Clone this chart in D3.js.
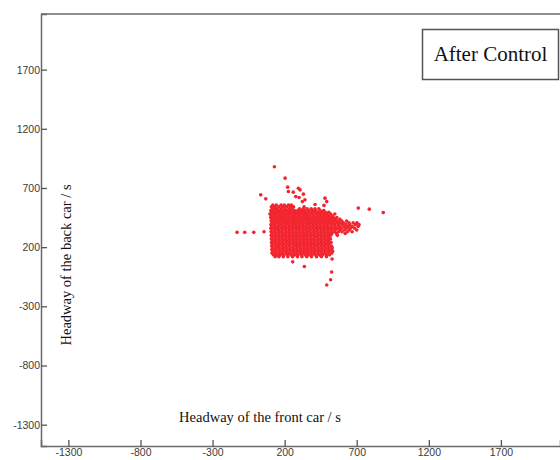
<!DOCTYPE html>
<meta charset="utf-8">
<head>
    <style>
        body, html {
            margin: 0;
            background: white;
        }
        .tick text {
            font-family: "Liberation Sans", Arial, sans-serif;
            font-size: 10.5px;
            fill: #3a3a3a;
        }
        .axis-title {
            font-family: "Liberation Serif", "Times New Roman", serif;
            font-size: 14.5px;
            fill: #111;
        }
    </style>
    <script src="https://cdn.jsdelivr.net/npm/d3@7/dist/d3.min.js"></script>
</head>
<body>
<svg id="chart" width="560" height="460"></svg>

<script>
    // tick values on both axes
    var xTicks = [-1300, -800, -300, 200, 700, 1200, 1700];
    var yTicks = [-1300, -800, -300, 200, 700, 1200, 1700];

    var xTitle = "Headway of the front car / s";
    var yTitle = "Headway of the back car / s";
    var legendLabel = "After Control";

    // dense core of the scatter, one row per back-car headway: [y, [x, x, ...]]
    var clusterRows = [
        [555, [118, 142, 175, 198, 226, 247]],
        [540, [108, 131, 160, 186, 212, 240, 262, 335]],
        [525, [115, 138, 151, 177, 203, 231, 250, 303, 329, 356, 384, 410, 437]],
        [510, [104, 126, 149, 170, 196, 219, 244, 268, 291, 317, 340, 367, 392, 415, 446, 471]],
        [495, [112, 135, 160, 182, 207, 233, 257, 279, 305, 328, 352, 378, 404, 429, 455, 482, 506]],
        [480, [101, 124, 146, 171, 194, 219, 242, 268, 292, 316, 341, 364, 390, 417, 441, 468, 492, 519, 548]],
        [465, [109, 133, 158, 181, 205, 230, 255, 278, 302, 329, 353, 376, 401, 427, 452, 478, 503, 530]],
        [450, [103, 126, 150, 174, 197, 222, 247, 269, 294, 318, 342, 366, 392, 416, 440, 465, 490, 515, 538, 562]],
        [435, [112, 136, 161, 185, 210, 233, 258, 282, 306, 330, 355, 380, 404, 428, 453, 478, 502, 527, 551, 583]],
        [420, [106, 130, 153, 177, 200, 226, 250, 274, 297, 322, 347, 370, 395, 420, 444, 469, 493, 516, 540, 566, 596, 630]],
        [405, [114, 138, 162, 187, 212, 236, 261, 285, 309, 334, 359, 383, 408, 432, 456, 481, 506, 530, 555, 580, 608, 646, 675, 702]],
        [390, [105, 129, 154, 178, 202, 227, 251, 276, 300, 325, 349, 373, 397, 422, 446, 471, 495, 520, 545, 571, 598, 625, 652, 690, 716]],
        [375, [111, 135, 160, 184, 208, 233, 258, 282, 306, 330, 355, 379, 403, 428, 452, 477, 501, 526, 552, 580, 612, 640, 668, 710]],
        [360, [104, 127, 151, 176, 201, 225, 249, 273, 297, 321, 346, 371, 396, 420, 445, 470, 494, 518, 543, 568, 594, 628, 656, 685]],
        [345, [112, 137, 161, 185, 209, 234, 258, 283, 307, 332, 356, 381, 405, 429, 454, 478, 503, 527, 552, 582, 615, 648, 700]],
        [330, [106, 130, 155, 179, 204, 228, 252, 277, 301, 326, 350, 374, 399, 423, 448, 472, 497, 521, 546, 574, 598, 635, 668]],
        [315, [113, 138, 162, 186, 211, 235, 260, 284, 309, 333, 357, 382, 406, 431, 455, 480, 504, 528, 560, 620]],
        [300, [107, 131, 156, 180, 204, 229, 253, 278, 302, 327, 351, 375, 400, 424, 449, 473, 498, 519, 566]],
        [285, [114, 139, 163, 188, 212, 236, 261, 285, 310, 334, 358, 383, 407, 432, 456, 481, 505]],
        [270, [108, 132, 157, 181, 206, 230, 254, 279, 303, 328, 352, 377, 401, 425, 450, 474, 499, 518]],
        [255, [115, 140, 164, 189, 213, 237, 262, 286, 311, 335, 360, 384, 408, 433, 457, 482, 506]],
        [240, [109, 133, 158, 182, 207, 231, 256, 280, 304, 329, 353, 378, 402, 427, 451, 475, 500, 522]],
        [225, [116, 141, 165, 190, 214, 238, 263, 287, 312, 336, 361, 385, 409, 434, 458, 483, 507]],
        [210, [110, 134, 159, 183, 208, 232, 257, 281, 305, 330, 354, 379, 403, 428, 452, 476, 501, 525]],
        [195, [117, 142, 166, 191, 215, 239, 264, 288, 313, 337, 362, 386, 410, 435, 459, 484, 508, 530]],
        [180, [111, 135, 160, 184, 209, 233, 258, 282, 306, 331, 355, 380, 404, 429, 453, 477, 502, 526]],
        [165, [118, 143, 167, 192, 216, 240, 265, 289, 314, 338, 363, 387, 411, 436, 460, 485, 509, 533]],
        [150, [112, 136, 161, 185, 210, 234, 259, 283, 307, 332, 356, 381, 405, 430, 454, 478, 503, 527]],
        [135, [122, 147, 171, 196, 220, 244, 269, 293, 318, 342, 367, 391, 415, 440, 464, 489, 512]],
        [120, [134, 160, 191, 222, 255, 289, 320, 353, 386, 421, 455, 490]]
    ];

    // scattered points around the core: [front, back]
    var outlierPoints = [
        [129, 880], [203, 783], [221, 707], [226, 670], [260, 665], [295, 698], [307, 684],
        [277, 627], [300, 619], [330, 648], [341, 600], [323, 585], [34, 642], [69, 608],
        [99, 480], [480, 614], [492, 585], [473, 553], [411, 560], [711, 530], [787, 521],
        [884, 492], [-130, 325], [-77, 325], [-14, 325], [57, 330], [256, 76], [337, 36],
        [529, 100], [526, -10], [519, -75], [492, -120]
    ];

    function drawChart() {
        var margin = {left: 41, right: 560, top: 14, bottom: 446};

        var svg = d3.select("#chart");

        var x = d3.scaleLinear().domain([-1490, 2110]).range([margin.left, margin.right]);
        var y = d3.scaleLinear().domain([-1480, 2170]).range([margin.bottom, margin.top]);

        // flatten rows into points
        var points = [];
        clusterRows.forEach(function (row) {
            row[1].forEach(function (v) { points.push([v, row[0]]); });
        });
        points = points.concat(outlierPoints);

        svg.append("g")
            .selectAll("circle")
            .data(points)
            .enter()
            .append("circle")
            .attr("cx", function (d) { return x(d[0]); })
            .attr("cy", function (d) { return y(d[1]); })
            .attr("r", 1.8)
            .attr("fill", "#f2252f");

        // frame: top line plus the two axes
        svg.append("line")
            .attr("x1", margin.left).attr("x2", margin.right)
            .attr("y1", margin.top).attr("y2", margin.top)
            .attr("stroke", "#6a6a6a").attr("stroke-width", 1.5);

        var fmt = function (d) { return String(d); };
        var xAxis = d3.axisBottom(x).tickValues(xTicks).tickSize(-6).tickPadding(3).tickFormat(fmt);
        var yAxis = d3.axisLeft(y).tickValues(yTicks).tickSize(-6).tickPadding(1).tickFormat(fmt);

        var gx = svg.append("g").attr("transform", "translate(0," + margin.bottom + ")").call(xAxis);
        var gy = svg.append("g").attr("transform", "translate(" + margin.left + ",0)").call(yAxis);

        [gx, gy].forEach(function (g) {
            g.select(".domain").attr("stroke", "#6a6a6a").attr("stroke-width", 1.5);
            g.selectAll(".tick line").attr("stroke", "#555").attr("stroke-width", 1.3);
        });

        // axis titles sit inside the plot area
        svg.append("text")
            .attr("class", "axis-title")
            .attr("x", 260).attr("y", 422)
            .attr("text-anchor", "middle")
            .text(xTitle);

        svg.append("text")
            .attr("class", "axis-title")
            .attr("transform", "translate(71,265) rotate(-90)")
            .attr("text-anchor", "middle")
            .text(yTitle);

        // legend box
        svg.append("rect")
            .attr("x", 422.5).attr("y", 29.5)
            .attr("width", 136).attr("height", 50)
            .attr("fill", "white")
            .attr("stroke", "#555").attr("stroke-width", 1.5);

        svg.append("text")
            .attr("x", 490.5).attr("y", 61)
            .attr("text-anchor", "middle")
            .style("font-family", "'Liberation Serif', 'Times New Roman', serif")
            .style("font-size", "21px")
            .attr("fill", "#111")
            .text(legendLabel);
    }
    drawChart();
</script>
</body>
